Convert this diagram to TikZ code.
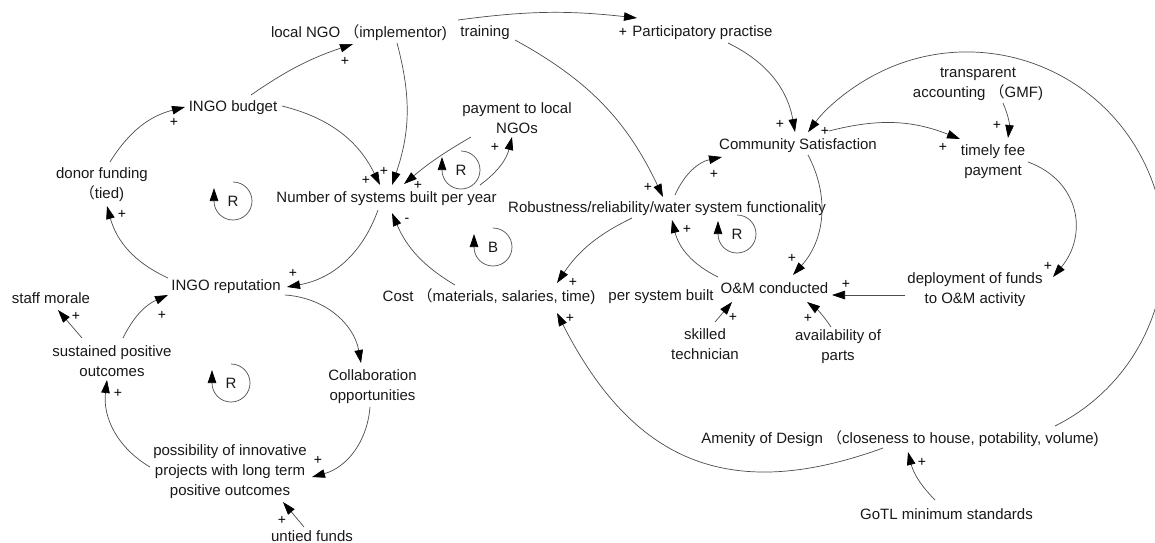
\documentclass[tikz,border=0pt]{standalone}
\usepackage{fontspec}
\setmainfont{Liberation Sans}
\newfontfamily\cjk{Noto Sans CJK SC}
\usetikzlibrary{arrows.meta,calc}
% full-width opening parenthesis
\newcommand{\fwp}{{\cjk （}}
% loop marker: circle with an arrow on its left side and a letter in it
\newcommand{\loopmark}[4]{%
  \draw[loopline,-{Triangle[length=13pt,width=8.5pt,color=black]}] (#2,#3) ++(0pt,19pt)
    arc[start angle=90,end angle=-180,radius=19pt] -- ++(0pt,13pt);
  \node[var] (#1) at (#2,#3) {#4};}
\begin{document}
\begin{tikzpicture}[x=1pt,y=-1pt,
  var/.style={inner sep=0pt, align=center, font=\fontsize{15}{20}\selectfont, text=black!90},
  link/.style={draw=black!70, line width=0.7pt, -{Triangle[length=13pt,width=8.5pt,color=black]}},
  polarity/.style={inner sep=0pt, font=\fontsize{14}{15}\selectfont, text=black},
  loopline/.style={draw=black!70, line width=0.7pt},
]
\fill[white] (0,0) rectangle (1155,542);
\useasboundingbox (0,0) rectangle (1155,542);

% variables
\node[var] (lngo) at (359,33) {local NGO \fwp implementor)};
\node[var] (train) at (485,33) {training};
\node[var] (part) at (702.5,33) {Participatory practise};
\node[var] (budget) at (233,108) {INGO budget};
\node[var] (pay) at (517,118) {payment to local\\NGOs};
\node[var] (transp) at (978,84) {transparent\\accounting \fwp GMF)};
\node[var] (comm) at (798,146) {Community Satisfaction};
\node[var] (fee) at (993,162) {timely fee\\payment};
\node[var] (donor) at (102,185) {donor funding\\\fwp tied)};
\node[var] (num) at (386.5,199) {Number of systems built per year};
\node[var] (robust) at (667,209) {Robustness/reliability/water system functionality};
\node[var] (rep) at (226,287) {INGO reputation};
\node[var] (morale) at (51,298) {staff morale};
\node[var] (cost) at (489,297) {Cost \fwp materials, salaries, time)};
\node[var] (persys) at (661,297) {per system built};
\node[var] (om) at (774.5,288) {O\&M conducted};
\node[var] (deploy) at (975,290) {deployment of funds\\to O\&M activity};
\node[var] (skilled) at (705,344) {skilled\\technician};
\node[var] (parts) at (838,347) {availability of\\parts};
\node[var] (sust) at (112,361.5) {sustained positive\\outcomes};
\node[var] (collab) at (372.5,387) {Collaboration\\opportunities};
\node[var] (amen) at (900,439) {Amenity of Design \fwp closeness to house, potability, volume)};
\node[var] (poss) at (230,472) {possibility of innovative\\projects with long term\\positive outcomes};
\node[var, anchor=base] (untied) at (312,541) {untied funds};
\node[var] (gotl) at (946.5,514) {GoTL minimum standards};

% causal links
\draw[link] ($(budget)+(18,-13)$) to[bend left=8] ($(lngo)+(-6,11)$);
\draw[link] ($(donor)+(8,-23)$) to[bend left=22] ($(budget)+(-48,-1)$);
\draw[link] ($(budget)+(49,-2)$) to[bend left=25] ($(num)+(-6.5,-14)$);
\draw[link] ($(lngo)+(38,10)$) to[bend left=17] ($(num)+(5.5,-14)$);
\draw[link] ($(pay)+(-46,19)$) to[bend right=5] ($(num)+(17.5,-15)$);
\draw[link] ($(num)+(93.5,-14)$) to[bend right=20] ($(pay)+(-5,19)$);
\draw[link] ($(train)+(-27,-13)$) to[bend left=7] ($(part)+(-65.5,-15)$);
\draw[link] ($(train)+(30,7)$) to[bend left=18] ($(robust)+(-4,-12)$);
\draw[link] ($(part)+(25.5,10)$) to[bend left=27] ($(comm)+(-3,-14)$);
\draw[link] ($(robust)+(8,-14)$) to[bend left=27] ($(comm)+(-76,11)$);
% the long loop round the right-hand side ends just above Community Satisfaction
\draw[link] ($(amen)+(155,-13)$) arc[start angle=-63.5, end angle=143.6, radius=197.4pt];
\draw[link] ($(comm)+(31,-15)$) to[bend left=18] ($(fee)+(-33,-23)$);
\draw[link] ($(transp)+(25,19)$) to[bend left=15] ($(fee)+(15,-24)$);
\draw[link] ($(fee)+(35,0)$) to[out=-20,in=50,looseness=1.2] ($(deploy)+(78,-13)$);
\draw[link] ($(comm)+(10,9)$) to[bend left=35] ($(om)+(18.5,-13)$);
\draw[link] ($(deploy)+(-70,5)$) -- ($(om)+(57.5,7)$);
\draw[link] ($(parts)+(-7,-20)$) to[bend right=10] ($(om)+(32.5,14)$);
\draw[link] ($(skilled)+(10,-22)$) -- ($(om)+(-42.5,14)$);
\draw[link] ($(om)+(-56.5,-11)$) to[bend left=25] ($(robust)+(5,11)$);
\draw[link] ($(robust)+(-35,9)$) to[bend right=15] ($(cost)+(68,-14)$);
\draw[link] ($(amen)+(-17,9)$) to[out=200,in=-63,looseness=1.2] ($(cost)+(68,16)$);
\draw[link] ($(gotl)+(-11.5,-14)$) to[bend left=15] ($(amen)+(8,13)$);
\draw[link] ($(cost)+(-34,-12)$) to[bend left=18] ($(num)+(5.5,14)$);
\draw[link] ($(num)+(-8.5,11)$) to[bend left=30] ($(rep)+(61,0)$);
\draw[link] ($(rep)+(-58,-9)$) to[bend left=25] ($(donor)+(5,21)$);
\draw[link] ($(rep)+(59,8)$) to[bend left=38] ($(collab)+(-11.5,-24)$);
\draw[link] ($(collab)+(-2.5,20)$) to[bend left=35] ($(poss)+(82,5)$);
\draw[link] ($(poss)+(-80,-5)$) to[bend left=33] ($(sust)+(-5,18.5)$);
\draw[link] ($(untied.north)+(-8,-3)$) -- ($(poss)+(53,30)$);
\draw[link] ($(sust)+(11,-23.5)$) to[bend left=20] ($(rep)+(-58,8)$);
\draw[link] ($(sust)+(-30,-23.5)$) -- ($(morale)+(7,12)$);

% link polarities
\node[polarity] (p1) at (345,61) {+};
\node[polarity] (p2) at (174,122) {+};
\node[polarity] (p3) at (366,180) {+};
\node[polarity] (p4) at (384,171) {+};
\node[polarity] (p5) at (418,185) {+};
\node[polarity] (p6) at (495,147) {+};
\node[polarity] (p7) at (623,32) {+};
\node[polarity] (p8) at (648,187) {+};
\node[polarity] (p9) at (780,124) {+};
\node[polarity] (p10) at (714,174) {+};
\node[polarity] (p11) at (825,131) {+};
\node[polarity] (p12) at (943,147) {+};
\node[polarity] (p13) at (997,125) {+};
\node[polarity] (p14) at (1048,266) {+};
\node[polarity] (p15) at (792,258) {+};
\node[polarity] (p16) at (846,284) {+};
\node[polarity] (p17) at (808,318) {+};
\node[polarity] (p18) at (733,317) {+};
\node[polarity] (p19) at (687,229) {+};
\node[polarity] (p20) at (573,282) {+};
\node[polarity] (p21) at (570,318) {+};
\node[polarity] (p22) at (922,462) {+};
\node[polarity] (p23) at (407,220) {-};
\node[polarity] (p24) at (293,273) {+};
\node[polarity] (p25) at (122,214) {+};
\node[polarity] (p27) at (318,460) {+};
\node[polarity] (p28) at (118,393) {+};
\node[polarity] (p29) at (282,520) {+};
\node[polarity] (p30) at (162,315) {+};
\node[polarity] (p31) at (76,316) {+};

% feedback loop markers
\loopmark{loopA}{233}{201}{R}
\loopmark{loopB}{461}{170}{R}
\loopmark{loopC}{493}{247}{B}
\loopmark{loopD}{737}{234}{R}
\loopmark{loopE}{231}{383}{R}
\end{tikzpicture}
\end{document}
